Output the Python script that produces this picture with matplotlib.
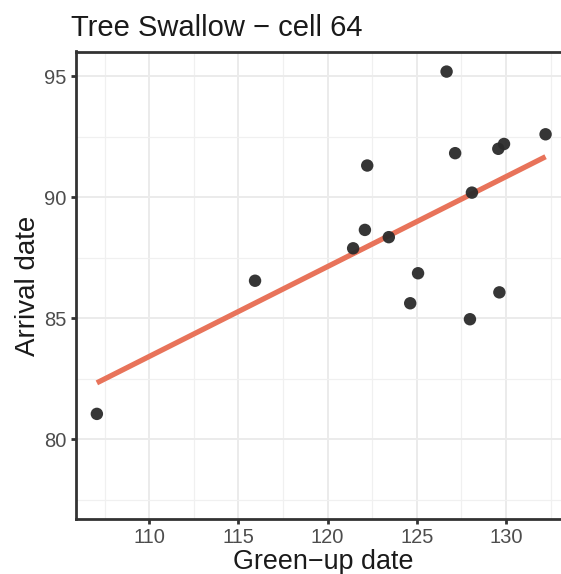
import numpy as np
import matplotlib
matplotlib.use("Agg")
import matplotlib.pyplot as plt
from matplotlib.ticker import MultipleLocator

plt.rcParams['font.family'] = ['Liberation Sans', 'DejaVu Sans']

title = "Tree Swallow \u2212 cell 64"
xlabel = "Green\u2212up date"
ylabel = "Arrival date"

green_up = [107.06, 115.93, 121.43, 122.09, 122.22, 123.43, 125.07, 124.63,
            126.67, 127.15, 128.09, 127.98, 129.63, 129.57, 129.89, 132.22]
arrival = [81.05, 86.55, 87.89, 88.65, 91.31, 88.35, 86.86, 85.62,
           95.19, 91.82, 90.19, 84.96, 86.07, 92.0, 92.2, 92.6]

xticks = [110, 115, 120, 125, 130]
yticks = [80, 85, 90, 95]

fig = plt.figure(figsize=(5.61, 5.74), dpi=100)
ax = fig.add_axes([76/561, 1 - 518.7/574, 1 - 76/561 + 0.01, (518.7 - 51.5)/574])

x = np.array(green_up)
y = np.array(arrival)
b, a = np.polyfit(x, y, 1)
xs = np.array([x.min(), x.max()])
ax.plot(xs, a + b * xs, color='#E8735A', lw=3.8, solid_capstyle='butt', zorder=3)
ax.scatter(x, y, s=80, color='#2B2B2B', alpha=0.95, edgecolors='none', zorder=4)

ax.set_xlim(105.89, 133.4)
ax.set_ylim(76.72, 96.02)
ax.set_xticks(xticks)
ax.set_yticks(yticks)
ax.xaxis.set_minor_locator(MultipleLocator(2.5))
ax.yaxis.set_minor_locator(MultipleLocator(2.5))
ax.grid(which='major', color='#EBEBEB', lw=1.4, zorder=0)
ax.grid(which='minor', color='#F0F0F0', lw=0.9, zorder=0)
ax.set_axisbelow(True)
ax.tick_params(which='minor', length=0)
ax.tick_params(which='major', length=3.5, width=2, color='#333333',
               labelsize=14.5, labelcolor='#4D4D4D', pad=3.5)
for s in ['left', 'bottom', 'top']:
    ax.spines[s].set_linewidth(2)
    ax.spines[s].set_color('#333333')
ax.spines['right'].set_visible(False)

fig.text(71/561, 1 - 36/574, title, fontsize=21, color='#1A1A1A',
         ha='left', va='baseline')
fig.text(323/561, 1 - 569/574, xlabel, fontsize=19.4, color='#1A1A1A',
         ha='center', va='baseline')
fig.text(35/561, 1 - 285.5/574, ylabel, fontsize=20, color='#1A1A1A',
         ha='center', va='baseline', rotation=90, rotation_mode='anchor')

fig.savefig('out.png', dpi=100)
